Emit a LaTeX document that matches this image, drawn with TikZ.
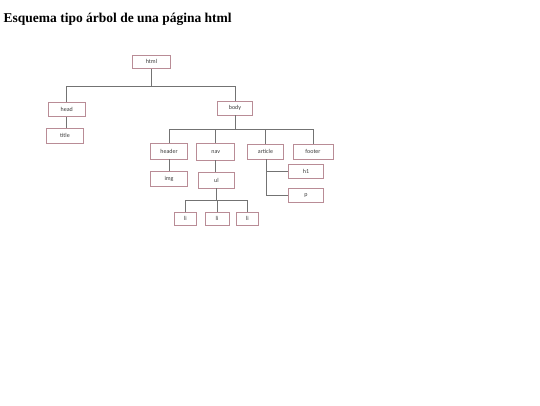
\documentclass[tikz,border=0pt]{standalone}
\usepackage{fontspec}
\setmainfont{Liberation Serif}
\newfontfamily\boxfont{Carlito}
\definecolor{boxline}{RGB}{185,140,150}
\definecolor{linkline}{RGB}{115,115,115}
\definecolor{boxtext}{RGB}{60,60,60}

\begin{document}
\begin{tikzpicture}[x=1pt, y=-1pt,
    tag/.style={draw=boxline, line width=0.8pt, fill=white, inner sep=0pt,
        font=\boxfont\fontsize{6}{7}\selectfont, text=boxtext},
    link/.style={draw=linkline, line width=0.7pt}]
\useasboundingbox (0,0) rectangle (540,405);
\node[anchor=base west, inner sep=0pt, font=\bfseries\fontsize{13.5}{15}\selectfont] (Title) at (3.5,22)
    {Esquema tipo árbol de una página html};

\draw (151.5,61.7) node (Html) [tag, minimum width=37.5pt, minimum height=13.5pt] {html};
\draw (66.8,109.5) node (Head) [tag, minimum width=37pt, minimum height=14.5pt] {head};
\draw (235,108) node (Body) [tag, minimum width=34.5pt, minimum height=14pt] {body};
\draw (65,135.8) node (Ttl) [tag, minimum width=36.5pt, minimum height=15pt] {title};

\draw (169,151.2) node (Header) [tag, minimum width=37pt, minimum height=15.5pt] {header};
\draw (215.8,151.7) node (Nav) [tag, minimum width=38pt, minimum height=16.5pt] {nav};
\draw (265.5,151.5) node (Article) [tag, minimum width=36pt, minimum height=15pt] {article};
\draw (313,151.5) node (Footer) [tag, minimum width=40pt, minimum height=15pt] {footer};

\draw (169,179) node (Img) [tag, minimum width=37pt, minimum height=15pt] {img};
\draw (216.4,180.3) node (Ul) [tag, minimum width=36pt, minimum height=15.5pt] {ul};
\draw (306,171.4) node (Hone) [tag, minimum width=35pt, minimum height=14pt] {h1};
\draw (306,195.5) node (Par) [tag, minimum width=35pt, minimum height=14.5pt] {p};

\draw (185.4,218.7) node (LiA) [tag, minimum width=22pt, minimum height=12.5pt] {li};
\draw (217,218.7) node (LiB) [tag, minimum width=24pt, minimum height=12.5pt] {li};
\draw (247.3,218.7) node (LiC) [tag, minimum width=22pt, minimum height=12.5pt] {li};

% branch points
\coordinate (HtmlBar) at (151.5,86);
\coordinate (BodyBar) at (235,129.3);
\coordinate (UlBar) at (216.4,200);
\coordinate (ArtEnd) at (266.7,195.5);

\draw[link] (Html) -- (HtmlBar);
\draw[link] (HtmlBar) -| (Head);
\draw[link] (HtmlBar) -| (Body);
\draw[link] (Head) -- (Head |- Ttl.north);

\draw[link] (Body) -- (BodyBar);
\draw[link] (BodyBar) -| (Header);
\draw[link] (BodyBar) -| (Nav);
\draw[link] (BodyBar) -| (Article);
\draw[link] (BodyBar) -| (Footer);

\draw[link] (Header) -- (Img);
\draw[link] (Nav) -- (Nav |- Ul.north);

\draw[link] (Ul) -- (UlBar);
\draw[link] (UlBar) -| (LiA);
\draw[link] (UlBar) -| (LiB);
\draw[link] (UlBar) -| (LiC);

\draw[link] (Article.south -| ArtEnd) -- (ArtEnd);
\draw[link] (Hone.west -| ArtEnd) -- (Hone);
\draw[link] (ArtEnd) -- (Par.west);

\end{tikzpicture}
\end{document}
